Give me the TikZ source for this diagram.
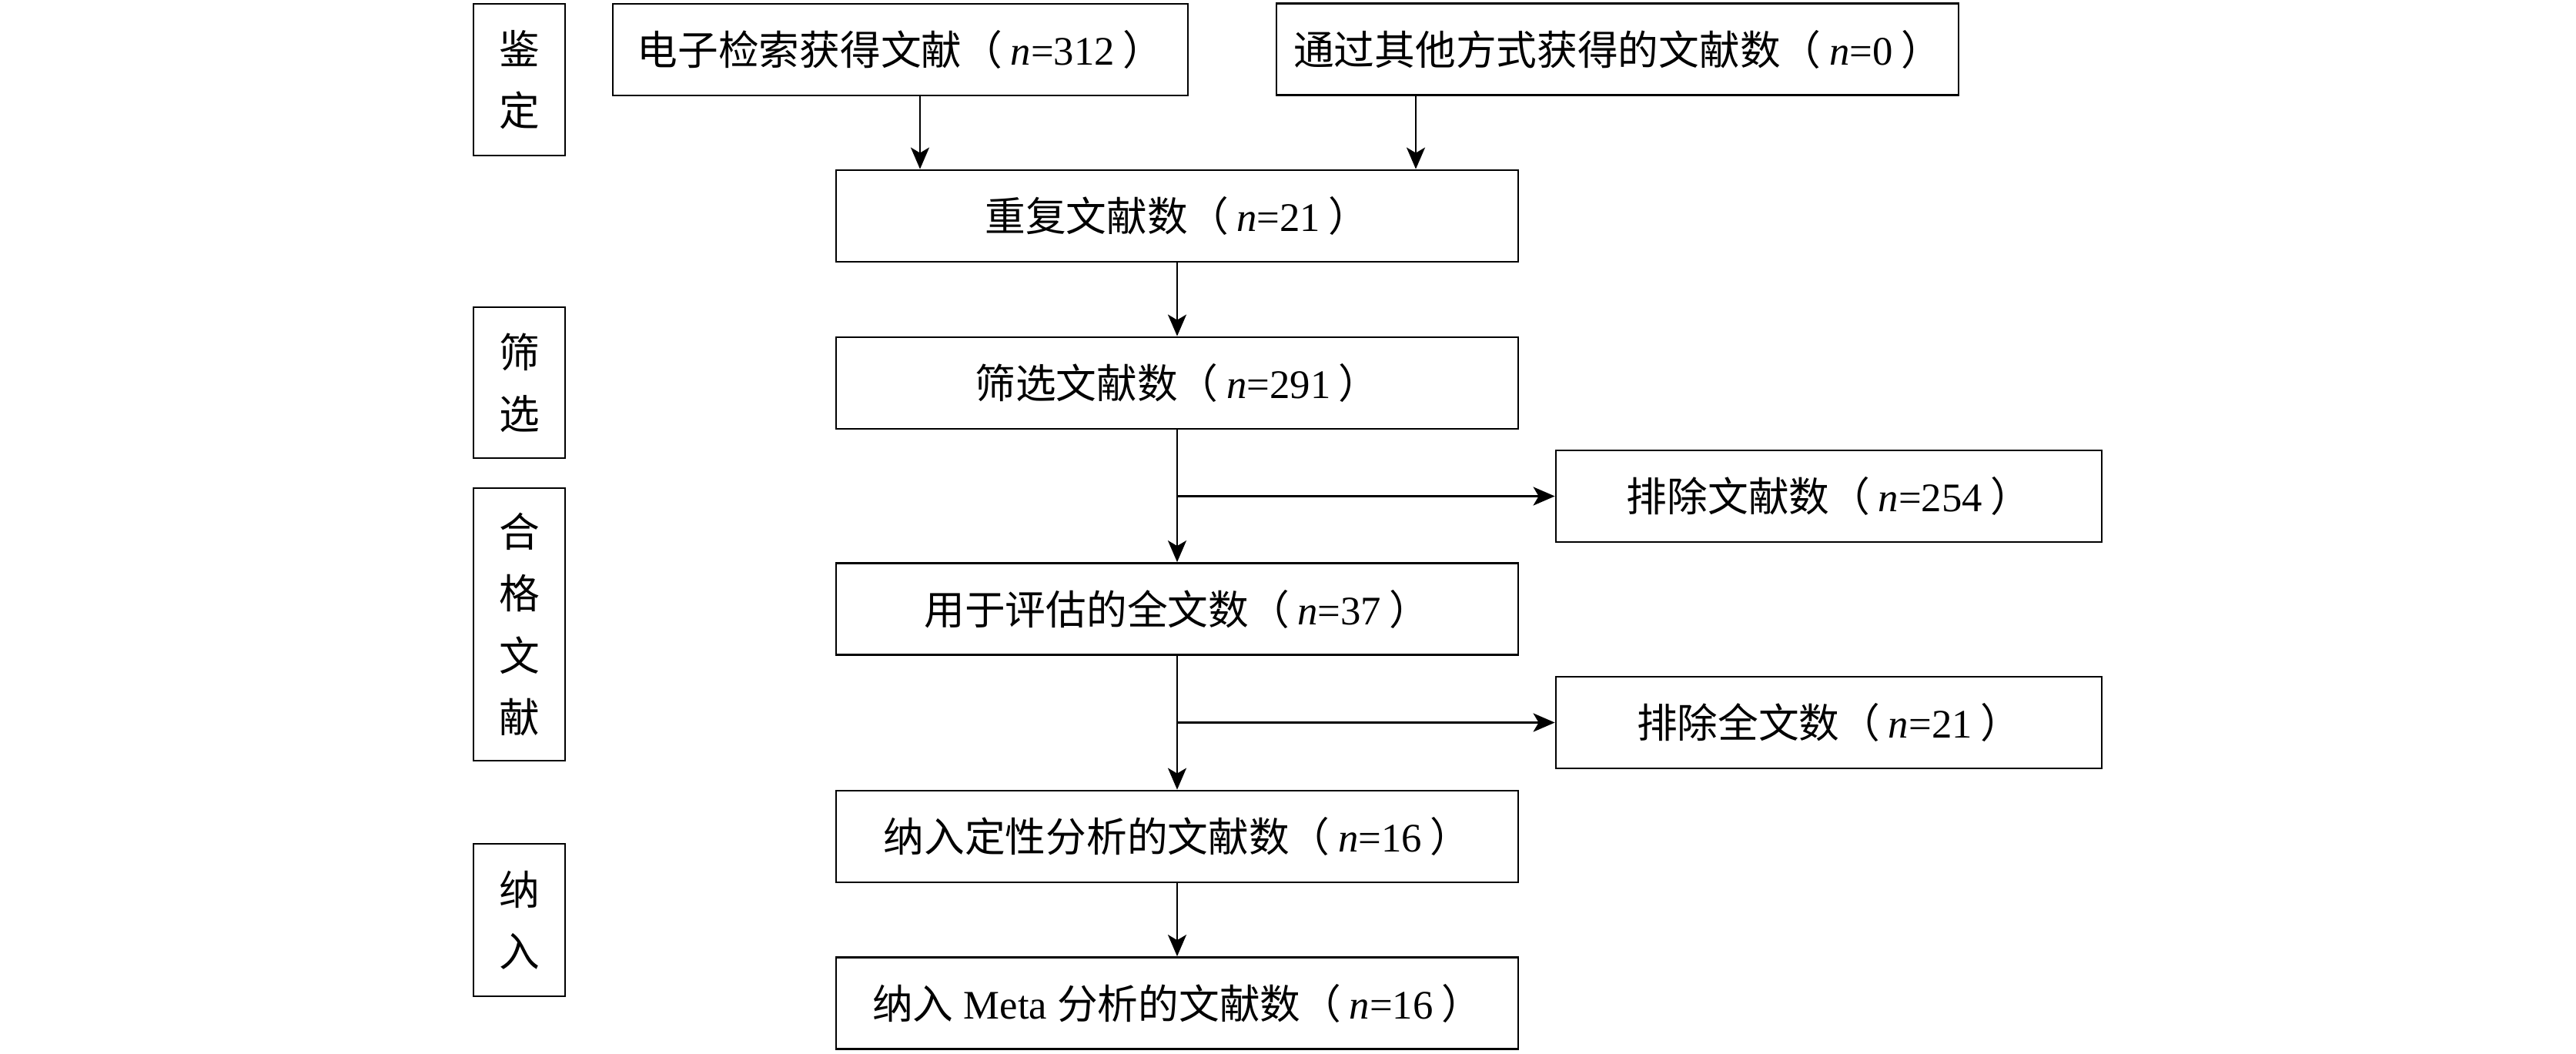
\documentclass[tikz,border=0pt]{standalone}
\usepackage{fontspec}
\setmainfont{Liberation Serif}
\newfontfamily\cjk{Noto Sans CJK SC}
\usetikzlibrary{arrows.meta}
\newcommand{\cnt}[2]{{\cjk #1（}\hspace{0.2em}\textit{n}=#2\hspace{0.2em}{\cjk ）}}
\tikzset{
  box/.style={draw, line width=0.8pt, minimum height=1.19cm, inner sep=0pt,
    font=\fontsize{15}{18}\selectfont},
  stage/.style={draw, line width=0.8pt, minimum width=1.19cm, inner sep=0pt,
    align=center, font=\cjk\fontsize{15}{22.8}\selectfont},
  flow/.style={line width=0.7pt, -{Stealth[length=2.8mm, width=2.4mm, inset=0.7mm]}}
}
\begin{document}
\begin{tikzpicture}
      \useasboundingbox (0,0) rectangle (33.46,-13.68);
      \draw
        (6.745,-1.035) node[stage, minimum height=1.97cm] (s1){鉴\\定}
        (6.745,-4.97) node[stage, minimum height=1.96cm] (s2){筛\\选}
        (6.745,-8.11) node[stage, minimum height=3.54cm] (s3){合\\格\\文\\献}
        (6.745,-11.95) node[stage, minimum height=1.98cm] (s4){纳\\入};
      \draw
        (11.695,-0.645) node[box, minimum width=7.47cm] (src1){\cnt{电子检索获得文献}{312}}
        (21.01,-0.64) node[box, minimum width=8.86cm] (src2){\cnt{通过其他方式获得的文献数}{0}}
        (15.29,-2.805) node[box, minimum width=8.86cm] (dup){\cnt{重复文献数}{21}}
        (15.29,-4.975) node[box, minimum width=8.86cm] (scr){\cnt{筛选文献数}{291}}
        (23.755,-6.445) node[box, minimum width=7.09cm] (exc1){\cnt{排除文献数}{254}}
        (15.29,-7.91) node[box, minimum width=8.86cm] (full){\cnt{用于评估的全文数}{37}}
        (23.755,-9.385) node[box, minimum width=7.09cm] (exc2){\cnt{排除全文数}{21}}
        (15.29,-10.865) node[box, minimum width=8.86cm] (qual){\cnt{纳入定性分析的文献数}{16}}
        (15.29,-13.03) node[box, minimum width=8.86cm] (meta){{\cjk 纳入} Meta \cnt{分析的文献数}{16}};
      \begin{scope}[flow]
        \draw ([xshift=2.55mm]src1.south) to ([xshift=2.55mm]src1.south |- dup.north);
        \draw ([xshift=-26.2mm]src2.south) to ([xshift=-26.2mm]src2.south |- dup.north);
        \draw (dup) to (scr);
        \draw (scr) to (full);
        \draw (full) to (qual);
        \draw (qual) to (meta);
        \draw[line width=0.9pt] (scr.south |- exc1.west) to (exc1.west);
        \draw[line width=0.9pt] (full.south |- exc2.west) to (exc2.west);
      \end{scope}
    \end{tikzpicture}
\end{document}
